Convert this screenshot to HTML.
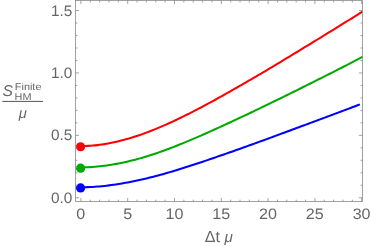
<!DOCTYPE html>
<html><head><meta charset="utf-8"><title>Plot</title>
<style>
html,body{margin:0;padding:0;background:#fff;}
body{width:371px;height:246px;position:relative;overflow:hidden;font-family:"Liberation Sans",sans-serif;}
</style></head><body>
<svg width="371" height="246" viewBox="0 0 371 246" style="position:absolute;left:0;top:0;will-change:transform">
<rect x="0" y="0" width="371" height="246" fill="#fff"/>
<path d="M80.80,187.25 L83.15,187.24 L85.49,187.20 L87.84,187.13 L90.18,187.04 L92.53,186.92 L94.87,186.77 L97.22,186.60 L99.56,186.40 L101.91,186.18 L104.25,185.94 L106.60,185.67 L108.94,185.38 L111.29,185.07 L113.64,184.75 L115.98,184.41 L118.33,184.04 L120.67,183.67 L123.02,183.27 L125.36,182.86 L127.71,182.43 L130.05,181.98 L132.40,181.52 L134.74,181.04 L137.09,180.55 L139.43,180.04 L141.78,179.52 L144.13,178.98 L146.47,178.43 L148.82,177.86 L151.16,177.28 L153.51,176.68 L155.85,176.07 L158.20,175.45 L160.54,174.81 L162.89,174.16 L165.23,173.49 L167.58,172.81 L169.92,172.13 L172.27,171.43 L174.62,170.73 L176.96,170.01 L179.31,169.29 L181.65,168.56 L184.00,167.82 L186.34,167.08 L188.69,166.33 L191.03,165.57 L193.38,164.80 L195.72,164.03 L198.07,163.26 L200.41,162.48 L202.76,161.69 L205.11,160.90 L207.45,160.11 L209.80,159.31 L212.14,158.51 L214.49,157.71 L216.83,156.90 L219.18,156.09 L221.52,155.28 L223.87,154.46 L226.21,153.64 L228.56,152.82 L230.90,152.00 L233.25,151.17 L235.59,150.34 L237.94,149.51 L240.29,148.67 L242.63,147.84 L244.98,147.00 L247.32,146.15 L249.67,145.31 L252.01,144.46 L254.36,143.61 L256.70,142.76 L259.05,141.91 L261.39,141.05 L263.74,140.20 L266.08,139.34 L268.43,138.48 L270.78,137.62 L273.12,136.76 L275.47,135.89 L277.81,135.03 L280.16,134.16 L282.50,133.30 L284.85,132.43 L287.19,131.56 L289.54,130.69 L291.88,129.82 L294.23,128.94 L296.57,128.07 L298.92,127.20 L301.27,126.33 L303.61,125.46 L305.96,124.59 L308.30,123.72 L310.65,122.85 L312.99,121.98 L315.34,121.11 L317.68,120.25 L320.03,119.38 L322.37,118.51 L324.72,117.64 L327.06,116.76 L329.41,115.89 L331.76,115.02 L334.10,114.14 L336.45,113.27 L338.79,112.39 L341.14,111.51 L343.48,110.62 L345.83,109.74 L348.17,108.85 L350.52,107.96 L352.86,107.06 L355.21,106.17 L357.55,105.27 L359.90,104.37" fill="none" stroke="#0000ff" stroke-width="2.05" stroke-linecap="butt" stroke-linejoin="round"/>
<path d="M80.80,167.37 L83.17,167.35 L85.53,167.30 L87.90,167.22 L90.27,167.11 L92.63,166.96 L95.00,166.79 L97.36,166.58 L99.73,166.34 L102.10,166.07 L104.46,165.77 L106.83,165.44 L109.20,165.09 L111.56,164.71 L113.93,164.31 L116.30,163.88 L118.66,163.44 L121.03,162.96 L123.39,162.47 L125.76,161.95 L128.13,161.41 L130.49,160.85 L132.86,160.26 L135.23,159.65 L137.59,159.02 L139.96,158.37 L142.33,157.70 L144.69,157.00 L147.06,156.29 L149.43,155.55 L151.79,154.79 L154.16,154.01 L156.52,153.21 L158.89,152.39 L161.26,151.55 L163.62,150.70 L165.99,149.83 L168.36,148.94 L170.72,148.04 L173.09,147.13 L175.46,146.20 L177.82,145.26 L180.19,144.31 L182.55,143.34 L184.92,142.37 L187.29,141.39 L189.65,140.40 L192.02,139.39 L194.39,138.39 L196.75,137.37 L199.12,136.35 L201.49,135.32 L203.85,134.28 L206.22,133.23 L208.58,132.18 L210.95,131.12 L213.32,130.05 L215.68,128.98 L218.05,127.90 L220.42,126.82 L222.78,125.73 L225.15,124.64 L227.52,123.55 L229.88,122.46 L232.25,121.37 L234.62,120.27 L236.98,119.16 L239.35,118.05 L241.71,116.94 L244.08,115.82 L246.45,114.70 L248.81,113.58 L251.18,112.45 L253.55,111.32 L255.91,110.19 L258.28,109.06 L260.65,107.92 L263.01,106.77 L265.38,105.63 L267.74,104.48 L270.11,103.33 L272.48,102.18 L274.84,101.03 L277.21,99.87 L279.58,98.72 L281.94,97.56 L284.31,96.40 L286.68,95.23 L289.04,94.07 L291.41,92.90 L293.77,91.73 L296.14,90.56 L298.51,89.39 L300.87,88.21 L303.24,87.04 L305.61,85.86 L307.97,84.68 L310.34,83.50 L312.71,82.32 L315.07,81.13 L317.44,79.95 L319.81,78.76 L322.17,77.57 L324.54,76.37 L326.90,75.18 L329.27,73.99 L331.64,72.79 L334.00,71.59 L336.37,70.39 L338.74,69.18 L341.10,67.97 L343.47,66.76 L345.84,65.54 L348.20,64.32 L350.57,63.09 L352.93,61.87 L355.30,60.64 L357.67,59.41 L360.03,58.18 L362.40,56.95" fill="none" stroke="#00aa00" stroke-width="2.05" stroke-linecap="butt" stroke-linejoin="round"/>
<path d="M80.80,146.06 L83.17,146.04 L85.53,145.98 L87.90,145.88 L90.27,145.75 L92.63,145.57 L95.00,145.36 L97.36,145.11 L99.73,144.82 L102.10,144.49 L104.46,144.13 L106.83,143.73 L109.20,143.29 L111.56,142.82 L113.93,142.32 L116.30,141.78 L118.66,141.21 L121.03,140.61 L123.39,139.99 L125.76,139.34 L128.13,138.67 L130.49,137.97 L132.86,137.25 L135.23,136.51 L137.59,135.74 L139.96,134.94 L142.33,134.12 L144.69,133.27 L147.06,132.40 L149.43,131.50 L151.79,130.57 L154.16,129.62 L156.52,128.66 L158.89,127.67 L161.26,126.67 L163.62,125.65 L165.99,124.61 L168.36,123.55 L170.72,122.48 L173.09,121.39 L175.46,120.28 L177.82,119.15 L180.19,118.01 L182.55,116.86 L184.92,115.69 L187.29,114.51 L189.65,113.32 L192.02,112.12 L194.39,110.91 L196.75,109.69 L199.12,108.46 L201.49,107.22 L203.85,105.96 L206.22,104.69 L208.58,103.41 L210.95,102.12 L213.32,100.82 L215.68,99.51 L218.05,98.19 L220.42,96.87 L222.78,95.54 L225.15,94.21 L227.52,92.88 L229.88,91.54 L232.25,90.20 L234.62,88.86 L236.98,87.51 L239.35,86.16 L241.71,84.81 L244.08,83.45 L246.45,82.08 L248.81,80.71 L251.18,79.34 L253.55,77.96 L255.91,76.58 L258.28,75.19 L260.65,73.80 L263.01,72.41 L265.38,71.01 L267.74,69.60 L270.11,68.19 L272.48,66.78 L274.84,65.36 L277.21,63.94 L279.58,62.51 L281.94,61.09 L284.31,59.66 L286.68,58.23 L289.04,56.79 L291.41,55.36 L293.77,53.93 L296.14,52.50 L298.51,51.06 L300.87,49.62 L303.24,48.18 L305.61,46.74 L307.97,45.30 L310.34,43.85 L312.71,42.41 L315.07,40.96 L317.44,39.50 L319.81,38.05 L322.17,36.60 L324.54,35.14 L326.90,33.68 L329.27,32.22 L331.64,30.76 L334.00,29.29 L336.37,27.83 L338.74,26.37 L341.10,24.90 L343.47,23.43 L345.84,21.97 L348.20,20.50 L350.57,19.03 L352.93,17.56 L355.30,16.09 L357.67,14.61 L360.03,13.14 L362.40,11.67" fill="none" stroke="#ff0000" stroke-width="2.05" stroke-linecap="butt" stroke-linejoin="round"/>
<circle cx="80.6" cy="187.9" r="4.6" fill="#0000ff"/>
<circle cx="80.6" cy="168.2" r="4.6" fill="#00aa00"/>
<circle cx="80.6" cy="146.75" r="4.6" fill="#ff0000"/>
<g stroke="#7a7a7a" stroke-width="0.7" fill="none">
<rect x="75.5" y="0.55" width="286.9" height="201.0"/>
<path d="M80.90,201.55 v-3.5 M80.90,0.55 v3.5"/>
<path d="M90.26,201.55 v-1.9 M90.26,0.55 v1.9"/>
<path d="M99.62,201.55 v-1.9 M99.62,0.55 v1.9"/>
<path d="M108.98,201.55 v-1.9 M108.98,0.55 v1.9"/>
<path d="M118.34,201.55 v-1.9 M118.34,0.55 v1.9"/>
<path d="M127.70,201.55 v-3.5 M127.70,0.55 v3.5"/>
<path d="M137.06,201.55 v-1.9 M137.06,0.55 v1.9"/>
<path d="M146.42,201.55 v-1.9 M146.42,0.55 v1.9"/>
<path d="M155.78,201.55 v-1.9 M155.78,0.55 v1.9"/>
<path d="M165.14,201.55 v-1.9 M165.14,0.55 v1.9"/>
<path d="M174.50,201.55 v-3.5 M174.50,0.55 v3.5"/>
<path d="M183.86,201.55 v-1.9 M183.86,0.55 v1.9"/>
<path d="M193.22,201.55 v-1.9 M193.22,0.55 v1.9"/>
<path d="M202.58,201.55 v-1.9 M202.58,0.55 v1.9"/>
<path d="M211.94,201.55 v-1.9 M211.94,0.55 v1.9"/>
<path d="M221.30,201.55 v-3.5 M221.30,0.55 v3.5"/>
<path d="M230.66,201.55 v-1.9 M230.66,0.55 v1.9"/>
<path d="M240.02,201.55 v-1.9 M240.02,0.55 v1.9"/>
<path d="M249.38,201.55 v-1.9 M249.38,0.55 v1.9"/>
<path d="M258.74,201.55 v-1.9 M258.74,0.55 v1.9"/>
<path d="M268.10,201.55 v-3.5 M268.10,0.55 v3.5"/>
<path d="M277.46,201.55 v-1.9 M277.46,0.55 v1.9"/>
<path d="M286.82,201.55 v-1.9 M286.82,0.55 v1.9"/>
<path d="M296.18,201.55 v-1.9 M296.18,0.55 v1.9"/>
<path d="M305.54,201.55 v-1.9 M305.54,0.55 v1.9"/>
<path d="M314.90,201.55 v-3.5 M314.90,0.55 v3.5"/>
<path d="M324.26,201.55 v-1.9 M324.26,0.55 v1.9"/>
<path d="M333.62,201.55 v-1.9 M333.62,0.55 v1.9"/>
<path d="M342.98,201.55 v-1.9 M342.98,0.55 v1.9"/>
<path d="M352.34,201.55 v-1.9 M352.34,0.55 v1.9"/>
<path d="M361.70,201.55 v-3.5 M361.70,0.55 v3.5"/>
<path d="M75.5,197.75 h3.5 M362.4,197.75 h-3.5"/>
<path d="M75.5,185.27 h1.9 M362.4,185.27 h-1.9"/>
<path d="M75.5,172.79 h1.9 M362.4,172.79 h-1.9"/>
<path d="M75.5,160.31 h1.9 M362.4,160.31 h-1.9"/>
<path d="M75.5,147.83 h1.9 M362.4,147.83 h-1.9"/>
<path d="M75.5,135.35 h3.5 M362.4,135.35 h-3.5"/>
<path d="M75.5,122.87 h1.9 M362.4,122.87 h-1.9"/>
<path d="M75.5,110.39 h1.9 M362.4,110.39 h-1.9"/>
<path d="M75.5,97.91 h1.9 M362.4,97.91 h-1.9"/>
<path d="M75.5,85.43 h1.9 M362.4,85.43 h-1.9"/>
<path d="M75.5,72.95 h3.5 M362.4,72.95 h-3.5"/>
<path d="M75.5,60.47 h1.9 M362.4,60.47 h-1.9"/>
<path d="M75.5,47.99 h1.9 M362.4,47.99 h-1.9"/>
<path d="M75.5,35.51 h1.9 M362.4,35.51 h-1.9"/>
<path d="M75.5,23.03 h1.9 M362.4,23.03 h-1.9"/>
<path d="M75.5,10.55 h3.5 M362.4,10.55 h-3.5"/>
</g>
<g font-family="Liberation Sans, sans-serif" fill="#666666" text-rendering="geometricPrecision">
<text transform="translate(80.80,218.7) scale(1.06,1)" font-size="15.2" text-anchor="middle">0</text>
<text transform="translate(127.60,218.7) scale(1.06,1)" font-size="15.2" text-anchor="middle">5</text>
<text transform="translate(174.40,218.7) scale(1.06,1)" font-size="15.2" text-anchor="middle">10</text>
<text transform="translate(221.20,218.7) scale(1.06,1)" font-size="15.2" text-anchor="middle">15</text>
<text transform="translate(268.00,218.7) scale(1.06,1)" font-size="15.2" text-anchor="middle">20</text>
<text transform="translate(314.80,218.7) scale(1.06,1)" font-size="15.2" text-anchor="middle">25</text>
<text transform="translate(361.60,218.7) scale(1.06,1)" font-size="15.2" text-anchor="middle">30</text>
<text transform="translate(72.3,202.85) scale(1.01,1)" font-size="15.2" text-anchor="end">0.0</text>
<text transform="translate(72.3,140.45) scale(1.01,1)" font-size="15.2" text-anchor="end">0.5</text>
<text transform="translate(72.3,78.05) scale(1.01,1)" font-size="15.2" text-anchor="end">1.0</text>
<text transform="translate(72.3,15.65) scale(1.01,1)" font-size="15.2" text-anchor="end">1.5</text>
<text x="204.8" y="241.7" font-size="16">Δt <tspan font-style="italic" font-size="15.2">μ</tspan></text>
<text x="2.6" y="96.1" font-size="15.6" font-style="italic">S</text>
<text transform="translate(14.8,90.3) scale(1.09,1)" font-size="10">Finite</text>
<text transform="translate(14.6,99.9) scale(1.09,1)" font-size="10">HM</text>
<text x="18.7" y="118.2" font-size="14.7" font-style="italic">μ</text>
</g>
<path d="M2.3,101.4 H43" stroke="#555" stroke-width="1" fill="none"/>
</svg>
</body></html>
